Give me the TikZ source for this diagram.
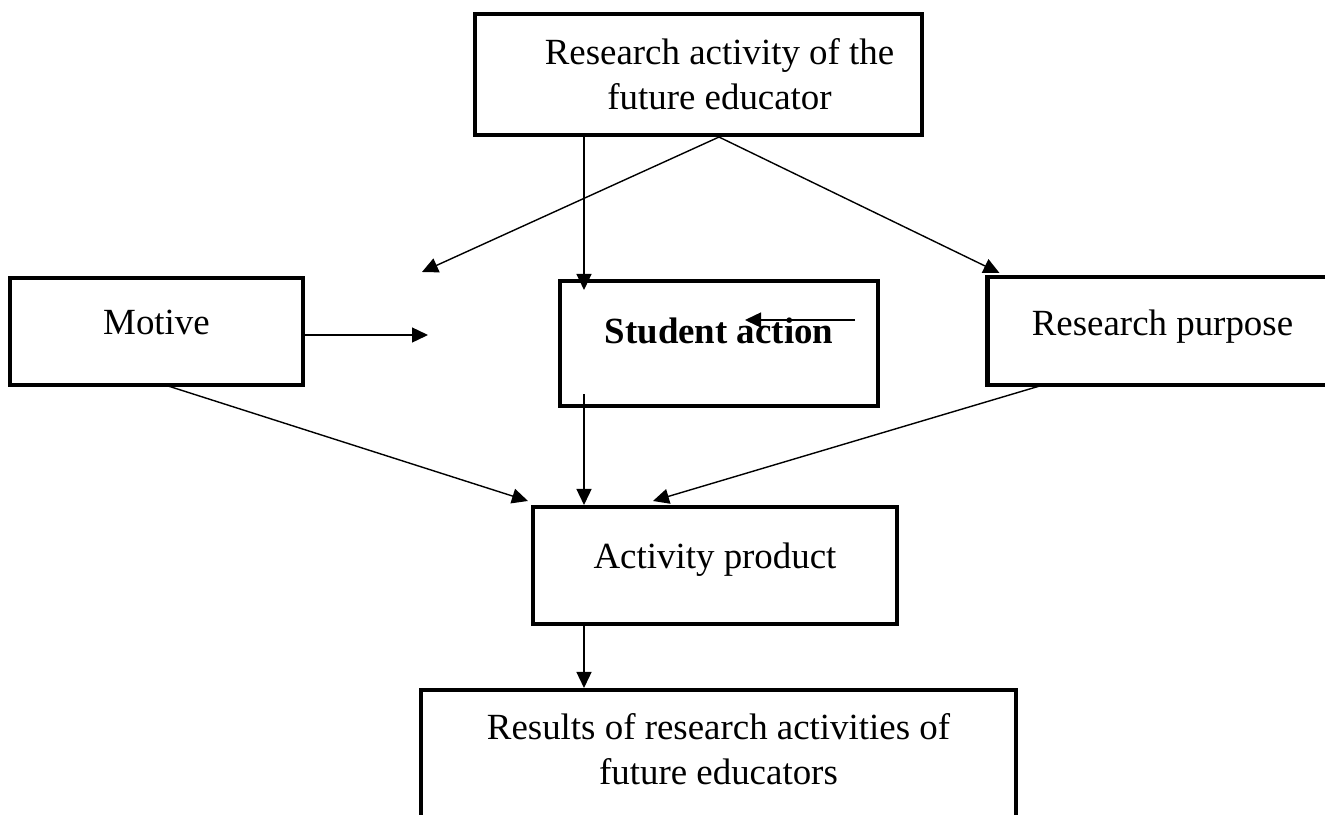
\documentclass[tikz,border=0pt]{standalone}
\usepackage{fontspec}
\setmainfont{Liberation Serif}
\usepackage{tikz}
\usetikzlibrary{shapes.geometric, arrows.meta, positioning, calc}

\tikzset{
    blok/.style={draw, rectangle, line width=2.3pt, align=center, font=\fontsize{21}{25.6}\selectfont},
    seta/.style={line width=0.8pt, -{Triangle[length=3.2mm,width=3mm]}}
}

\begin{document}
\begin{tikzpicture}
        \useasboundingbox (0,0) rectangle (26.5,-16.28);
        % Caixas
        \node[blok, minimum width=8.94cm, minimum height=2.42cm] (top) at (13.97,-1.49) {};
        \node[align=center, font=\fontsize{21}{25.6}\selectfont] (toptext) at ($(top.center)+(0.42,0)$) {Research activity of the\\future educator};
        \node[blok, minimum width=5.86cm, minimum height=2.14cm, text depth=0.38cm] (motive) at (3.13,-6.63) {Motive};
        \node[blok, minimum width=6.36cm, minimum height=2.5cm, text depth=0.5cm] (action) at (14.38,-6.87) {\textbf{Student action}};
        \node[blok, minimum width=7.0cm, minimum height=2.16cm, text depth=0.35cm] (purpose) at (23.25,-6.62) {Research purpose};
        \node[blok, minimum width=7.28cm, minimum height=2.34cm, text depth=0.4cm] (product) at (14.3,-11.31) {Activity product};
        \node[blok, minimum width=11.9cm, minimum height=2.8cm, text depth=0.45cm] (results) at (14.37,-15.2) {Results of research activities of\\future educators};

        % Pontos auxiliares
        \coordinate (apex) at (top.south -| action.center);
        \coordinate (gap) at (8.44,-5.44);
        \coordinate (mid) at (8.56,-6.7);
        \coordinate (vl) at (11.68,0);

        % Setas
        \draw[seta] (apex) -- (gap);
        \draw[seta] (apex) -- ($(purpose.north west)+(0.28,0.04)$);
        \draw[seta] (top.south -| vl) -- ($(action.north -| vl)+(0,-0.22)$);
        \draw[seta] (motive.east |- mid) -- (mid);
        \draw[seta] (17.1,-6.4) -- (14.9,-6.4);
        \draw[seta] ($(action.south -| vl)+(0,0.28)$) -- (product.north -| vl);
        \draw[seta] (3.3,-7.7) -- ($(product.north west)+(-0.06,0.08)$);
        \draw[seta] (20.86,-7.7) -- ($(product.north west)+(2.44,0.08)$);
        \draw[seta] (product.south -| vl) -- (results.north -| vl);
    \end{tikzpicture}
\end{document}
